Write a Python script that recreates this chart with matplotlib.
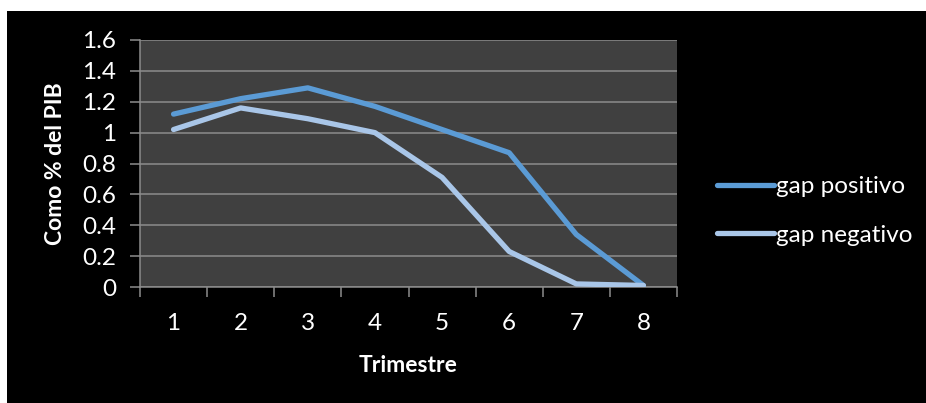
import matplotlib
matplotlib.use("Agg")
import matplotlib.pyplot as plt
from matplotlib.patches import Rectangle
from matplotlib.lines import Line2D

# Data
trimestres = [1, 2, 3, 4, 5, 6, 7, 8]
gap_positivo = [1.12, 1.22, 1.29, 1.17, 1.02, 0.87, 0.34, 0.01]
gap_negativo = [1.02, 1.16, 1.09, 1.00, 0.71, 0.23, 0.02, 0.01]
y_ticks = [0, 0.2, 0.4, 0.6, 0.8, 1.0, 1.2, 1.4, 1.6]
series_names = ["gap positivo", "gap negativo"]

plt.rcParams["font.family"] = ["Lato", "DejaVu Sans"]

W, H = 926, 403
fig = plt.figure(figsize=(W / 100, H / 100), dpi=100, facecolor="white")

# black chart area with a thin white margin at top and left
fig.patches.append(Rectangle((7 / W, 0), 1, (H - 11) / H, transform=fig.transFigure,
                             facecolor="black", edgecolor="none", zorder=-10))

left, right, top, bottom = 140, 677, 40, 287
ax = fig.add_axes([left / W, (H - bottom) / H, (right - left) / W, (bottom - top) / H])
ax.set_zorder(1)
ax.set_facecolor("#404040")

c_pos = "#5B9BD5"
c_neg = "#A9C6E8"
lw = 3.8
ax.plot(trimestres, gap_positivo, color=c_pos, lw=lw, solid_capstyle="round",
        solid_joinstyle="round", zorder=3, label=series_names[0])
ax.plot(trimestres, gap_negativo, color=c_neg, lw=lw, solid_capstyle="round",
        solid_joinstyle="round", zorder=3, label=series_names[1])

ax.set_xlim(0.5, 8.5)
ax.set_ylim(0, 1.6)

grid_c = "#8C8C8C"
fs = 17.5
fs_bold = 16.5
ax.set_yticks(y_ticks)
ax.set_yticklabels([f"{v:g}" for v in y_ticks])
ax.yaxis.grid(True, color=grid_c, lw=1.1)
ax.set_axisbelow(True)

# category boundaries carry the tick marks, category centres carry the labels
ax.set_xticks([i + 0.5 for i in range(0, 9)])
ax.set_xticklabels([])
ax.set_xticks(trimestres, minor=True)
ax.set_xticklabels([str(t) for t in trimestres], minor=True)
ax.tick_params(axis="x", which="minor", length=0, pad=19)
ax.tick_params(axis="x", which="major", length=7, width=1.1, color=grid_c)
ax.tick_params(axis="y", length=7, width=1.1, color=grid_c, pad=10)
ax.tick_params(axis="both", which="both", labelsize=fs, labelcolor="white")

for s in ["top", "right"]:
    ax.spines[s].set_visible(False)
for s in ["left", "bottom"]:
    ax.spines[s].set_color(grid_c)
    ax.spines[s].set_linewidth(1.1)

ax.set_xlabel("Trimestre", color="white", fontsize=fs_bold, fontweight="bold", labelpad=15)
ax.set_ylabel("Como % del PIB", color="white", fontsize=fs_bold, fontweight="bold", labelpad=12)

handles = [Line2D([], [], color=c_pos, lw=lw, solid_capstyle="round"),
           Line2D([], [], color=c_neg, lw=lw, solid_capstyle="round")]
leg = fig.legend(handles, series_names, loc="center left",
                 bbox_to_anchor=(695 / W, (H - 211) / H), frameon=False,
                 fontsize=fs, handlelength=2.35, handletextpad=0.1,
                 labelspacing=1.12, labelcolor="white")

fig.savefig("out.png", dpi=100, facecolor="white")
